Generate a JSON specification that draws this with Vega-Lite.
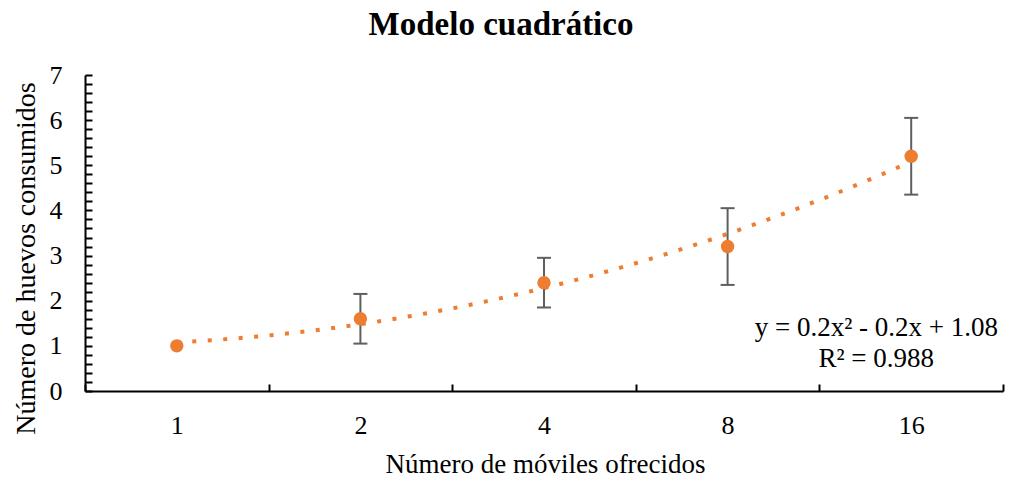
{
  "$schema": "https://vega.github.io/schema/vega-lite/v6.json",
  "width": 918,
  "height": 316,
  "autosize": "none",
  "padding": {"left": 85, "top": 75, "right": 8, "bottom": 91},
  "background": "white",
  "title": {"text": "Modelo cuadrático", "font": "Liberation Serif", "fontSize": 33, "fontWeight": "bold", "color": "black", "anchor": "middle", "frame": "group", "dx": -43, "offset": 20},
  "config": {"view": {"stroke": null}, "font": "Liberation Serif"},
  "data": {"values": [
    {"pos": 1, "moviles": 1, "huevos": 1.0},
    {"pos": 2, "moviles": 2, "huevos": 1.6, "lo": 1.05, "hi": 2.15},
    {"pos": 3, "moviles": 4, "huevos": 2.4, "lo": 1.85, "hi": 2.95},
    {"pos": 4, "moviles": 8, "huevos": 3.2, "lo": 2.35, "hi": 4.05},
    {"pos": 5, "moviles": 16, "huevos": 5.2, "lo": 4.35, "hi": 6.05}
  ]},
  "layer": [
    {
      "transform": [{"regression": "huevos", "on": "pos", "method": "poly", "order": 2}],
      "mark": {"type": "line", "color": "#ED7D31", "strokeWidth": 4, "strokeDash": [4, 11.5], "strokeCap": "butt"},
      "encoding": {
        "x": {"field": "pos", "type": "quantitative",
          "scale": {"domain": [0.5, 5.5], "nice": false, "zero": false},
          "axis": {
            "values": [0.5, 1, 1.5, 2, 2.5, 3, 3.5, 4, 4.5, 5, 5.5],
            "tickCount": 40,
            "grid": false,
            "domainColor": "black", "domainWidth": 2,
            "tickColor": "black", "tickWidth": 2, "tickSize": -7,
            "tickOpacity": {"condition": {"test": "datum.value % 1 === 0", "value": 0}, "value": 1},
            "labelExpr": "datum.value % 1 === 0 ? '' + pow(2, datum.value - 1) : ''",
            "labelFont": "Liberation Serif", "labelFontSize": 26, "labelColor": "black",
            "labelPadding": 28, "labelFlush": false, "labelOverlap": false,
            "title": "Número de móviles ofrecidos",
            "titleFont": "Liberation Serif", "titleFontSize": 27, "titleFontWeight": "normal", "titleColor": "black",
            "titleX": 460, "titleY": 81, "titleBaseline": "alphabetic", "titleAlign": "center"
          }
        },
        "y": {"field": "huevos", "type": "quantitative",
          "scale": {"domain": [0, 7], "nice": false},
          "axis": {
            "values": [0, 0.2, 0.4, 0.6, 0.8, 1, 1.2, 1.4, 1.6, 1.8, 2, 2.2, 2.4, 2.6, 2.8, 3, 3.2, 3.4, 3.6, 3.8, 4, 4.2, 4.4, 4.6, 4.8, 5, 5.2, 5.4, 5.6, 5.8, 6, 6.2, 6.4, 6.6, 6.8, 7],
            "tickCount": 100,
            "grid": false,
            "domainColor": "black", "domainWidth": 2,
            "tickColor": "black", "tickWidth": 2,
            "tickSize": -7,
            "labelExpr": "abs(datum.value - round(datum.value)) < 0.01 ? '' + round(datum.value) : ''",
            "labelFont": "Liberation Serif", "labelFontSize": 26, "labelColor": "black",
            "labelPadding": 30, "labelFlush": false, "labelOverlap": false,
            "title": "Número de huevos consumidos",
            "titleFont": "Liberation Serif", "titleFontSize": 28, "titleFontWeight": "normal", "titleColor": "black",
            "titleX": -51, "titleY": 183, "titleBaseline": "alphabetic", "titleAlign": "center", "titleAngle": -90
          }
        }
      }
    },
    {
      "transform": [{"filter": "isValid(datum.lo)"}],
      "mark": {"type": "rule", "color": "#5f5f5f", "strokeWidth": 2},
      "encoding": {
        "x": {"field": "pos", "type": "quantitative"},
        "y": {"field": "lo", "type": "quantitative"},
        "y2": {"field": "hi"}
      }
    },
    {
      "transform": [{"filter": "isValid(datum.lo)"}],
      "mark": {"type": "tick", "orient": "horizontal", "color": "#5f5f5f", "thickness": 2, "size": 14, "opacity": 1},
      "encoding": {
        "x": {"field": "pos", "type": "quantitative"},
        "y": {"field": "lo", "type": "quantitative"}
      }
    },
    {
      "transform": [{"filter": "isValid(datum.hi)"}],
      "mark": {"type": "tick", "orient": "horizontal", "color": "#5f5f5f", "thickness": 2, "size": 14, "opacity": 1},
      "encoding": {
        "x": {"field": "pos", "type": "quantitative"},
        "y": {"field": "hi", "type": "quantitative"}
      }
    },
    {
      "mark": {"type": "point", "filled": true, "color": "#ED7D31", "size": 180, "opacity": 1},
      "encoding": {
        "x": {"field": "pos", "type": "quantitative"},
        "y": {"field": "huevos", "type": "quantitative"}
      }
    },
    {
      "data": {"values": [{"eq": "y = 0.2x² - 0.2x + 1.08", "r2": "R² = 0.988"}]},
      "mark": {"type": "text", "font": "Liberation Serif", "fontSize": 27, "color": "black", "align": "center", "baseline": "middle", "lineHeight": 31},
      "encoding": {
        "x": {"datum": 4.81, "type": "quantitative"},
        "y": {"datum": 1.4, "type": "quantitative"},
        "text": {"value": ["y = 0.2x² - 0.2x + 1.08", "R² = 0.988"]}
      }
    }
  ]
}
